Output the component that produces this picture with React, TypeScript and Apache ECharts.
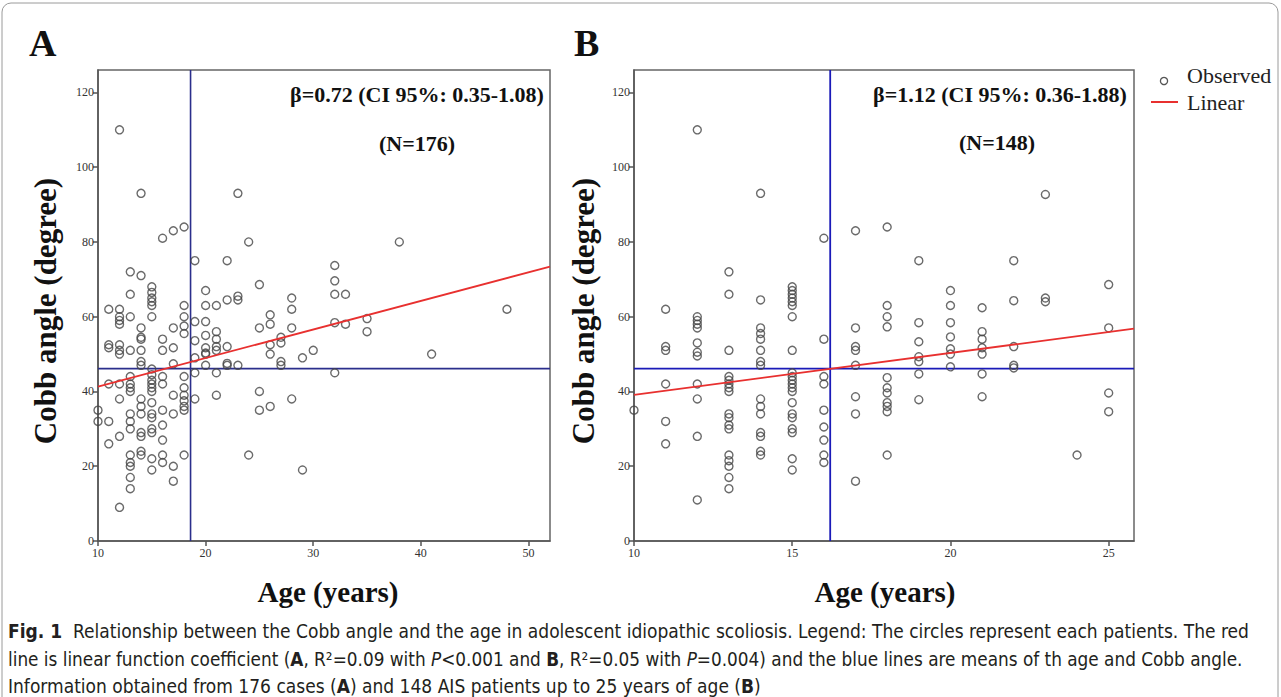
import React, { useEffect, useRef } from "react";
import * as echarts from "echarts";

// ---------- DATA ----------
// Panel A: [age (years), Cobb angle (degree)]
const observedA: number[][] = [
  [12, 110], [14, 93], [23, 93], [18, 84], [17, 83], [16, 81], [24, 80], [38, 80],
  [19, 75], [22, 75], [32, 73.7], [32, 69.6], [13, 72], [14, 71], [15, 68], [15, 66.5],
  [15, 65], [15, 64], [15, 63], [13, 66], [20, 67], [23, 65.5], [23, 64.5], [25, 68.6],
  [28, 65], [28, 62], [32, 66], [33, 66], [22, 64.5], [21, 63], [20, 63], [18, 63],
  [11, 62], [12, 62], [12, 60], [12, 59], [12, 58], [13, 60], [15, 60], [18, 60],
  [14, 57], [14, 54.5], [14, 54], [16, 54], [17, 57], [18, 57.5], [18, 55.5], [19, 58.7],
  [19, 53.6], [20, 58.7], [20, 55], [20, 51.7], [20, 50.3], [20, 47], [21, 56], [21, 54],
  [21, 52], [21, 51], [22, 52], [22, 47], [25, 57], [26, 60.5], [26, 58], [26, 52.5],
  [26, 50], [27, 54.5], [27, 53], [27, 48], [27, 47], [28, 57], [32, 58.4], [33, 58],
  [35, 59.5], [35, 56], [48, 62], [29, 49], [30, 51], [32, 45], [28, 38], [29, 19],
  [41, 50],
  [10, 35], [10, 32], [11, 42], [11, 32], [11, 26], [11, 51.7], [11, 52.5], [12, 52.5],
  [12, 51], [12, 50], [12, 42], [12, 38], [12, 28], [12, 9], [13, 51], [13, 44],
  [13, 42], [13, 41], [13, 40], [13, 34], [13, 32], [13, 30], [13, 23], [13, 21],
  [13, 20], [13, 17], [13, 14], [14, 51], [14, 48], [14, 47], [14, 38], [14, 36],
  [14, 34], [14, 29], [14, 28], [14, 24], [14, 23], [15, 46], [15, 44.5], [15, 43],
  [15, 42], [15, 41], [15, 40], [15, 37], [15, 34], [15, 33], [15, 30], [15, 29],
  [15, 22], [15, 19], [16, 51], [16, 44], [16, 42], [16, 35], [16, 31], [16, 27],
  [16, 23], [16, 21], [17, 51.7], [17, 47.4], [17, 39], [17, 34], [17, 20], [17, 16],
  [18, 44], [18, 41], [18, 39], [18, 37.5], [18, 36], [18, 35], [18, 23], [19, 49],
  [19, 45], [19, 38], [20, 50], [21, 45], [21, 39], [22, 47.5], [23, 47], [24, 23],
  [25, 40], [25, 35], [26, 36],
];

// Panel B: [age (years), Cobb angle (degree)]
const observedB: number[][] = [
  [12, 110], [14, 93], [16, 81], [17, 83], [13, 72], [13, 66], [14, 64.5], [15, 68],
  [15, 67], [15, 66], [15, 65], [15, 64], [15, 63], [18, 84], [23, 92.7], [19, 75],
  [22, 75], [20, 67], [25, 68.6], [22, 64.3], [23, 65], [23, 64],
  [10, 35], [11, 62], [11, 52], [11, 51], [11, 42], [11, 32], [11, 26],
  [12, 60], [12, 59], [12, 58], [12, 57], [12, 53], [12, 50.5], [12, 49.5], [12, 42],
  [12, 38], [12, 28], [12, 11],
  [13, 51], [13, 44], [13, 43], [13, 42], [13, 41], [13, 40], [13, 34], [13, 33],
  [13, 31], [13, 30], [13, 23], [13, 21.5], [13, 20], [13, 17], [13, 14],
  [14, 57], [14, 55.5], [14, 54], [14, 51], [14, 48], [14, 47], [14, 38], [14, 36],
  [14, 34], [14, 29], [14, 28], [14, 24], [14, 23],
  [15, 60], [15, 51], [15, 45], [15, 44], [15, 43], [15, 42], [15, 41], [15, 40],
  [15, 37], [15, 34], [15, 33], [15, 30], [15, 29], [15, 22], [15, 19],
  [16, 54], [16, 44], [16, 42], [16, 35], [16, 30.5], [16, 27], [16, 23], [16, 21],
  [17, 57], [17, 52], [17, 51], [17, 47], [17, 38.6], [17, 34], [17, 16],
  [18, 63], [18, 60], [18, 57.3], [18, 43.7], [18, 41], [18, 39.6], [18, 37], [18, 36],
  [18, 34.6], [18, 23],
  [19, 58.4], [19, 53.3], [19, 49.3], [19, 48], [19, 44.7], [19, 37.8],
  [20, 63], [20, 58.4], [20, 54.6], [20, 51.4], [20, 50], [20, 46.6],
  [21, 62.4], [21, 56], [21, 54], [21, 51.7], [21, 50], [21, 44.7], [21, 38.6],
  [22, 52], [22, 47], [22, 46.3],
  [24, 23], [25, 57], [25, 39.6], [25, 34.6],
];

// Linear fit end points [age, angle]
const linearA: number[][] = [[10, 41.3], [52, 73.4]];
const linearB: number[][] = [[10, 39.1], [25.8, 56.8]];

// Means [mean age, mean Cobb angle]
const meansA: number[] = [18.6, 46.1];
const meansB: number[] = [16.2, 46.1];

// Axis ranges and tick labels
const xRangeA: number[] = [10, 52];
const xRangeB: number[] = [10, 25.8];
const yRange: number[] = [0, 126];
const xTicksA: number[] = [10, 20, 30, 40, 50];
const xTicksB: number[] = [10, 15, 20, 25];
const yTicks: number[] = [0, 20, 40, 60, 80, 100, 120];

const annotationA: string[] = ["β=0.72 (CI 95%: 0.35-1.08)", "(N=176)"];
const annotationB: string[] = ["β=1.12 (CI 95%: 0.36-1.88)", "(N=148)"];
const legendLabels: string[] = ["Observed", "Linear"];
const axisTitles: string[] = ["Age (years)", "Cobb angle (degree)"];

const SERIF = "'Liberation Serif', 'Times New Roman', serif";
const CAPTION_FONT = "'DejaVu Sans Condensed', 'Liberation Sans Narrow', 'Noto Sans', sans-serif";

export default function App() {
  const ref = useRef<HTMLDivElement>(null);

  useEffect(() => {
    if (!ref.current) return;
    const chart = echarts.init(ref.current, undefined, { renderer: "svg" });

    const axisLineStyle = { color: "#555", width: 1.5 };
    const tickLabel = { fontFamily: SERIF, fontSize: 12, color: "#333" };

    const xAxisBase = (idx: number, range: number[], ticks: number[]) => ({
      type: "value",
      gridIndex: idx,
      min: range[0],
      max: range[1],
      splitLine: { show: false },
      axisLine: { show: true, lineStyle: axisLineStyle, onZero: false },
      axisTick: { show: true, length: 5, lineStyle: axisLineStyle, customValues: ticks },
      axisLabel: { ...tickLabel, margin: 6, customValues: ticks },
    });
    const yAxisBase = (idx: number) => ({
      type: "value",
      gridIndex: idx,
      min: yRange[0],
      max: yRange[1],
      splitLine: { show: false },
      axisLine: { show: true, lineStyle: axisLineStyle, onZero: false },
      axisTick: { show: true, length: 5, lineStyle: axisLineStyle, customValues: yTicks },
      axisLabel: { ...tickLabel, margin: 4, customValues: yTicks },
    });

    const scatterStyle = {
      color: "rgba(0,0,0,0)",
      borderColor: "#454545",
      borderWidth: 1.4,
    };

    const lineSeries = (idx: number, data: number[][], color: string, width: number, z: number) => ({
      type: "line",
      xAxisIndex: idx,
      yAxisIndex: idx,
      data,
      showSymbol: false,
      symbol: "none",
      silent: true,
      z,
      lineStyle: { color, width },
    });

    const blueA = "#2b2e8c";
    const blueB = "#1a1ab8";
    const red = "#e8302f";

    const option: any = {
      animation: false,
      backgroundColor: "#fff",
      grid: [
        { left: 98, top: 70, width: 452, height: 471, show: true, borderColor: "#666", borderWidth: 1.5, backgroundColor: "transparent" },
        { left: 634, top: 70, width: 500, height: 471, show: true, borderColor: "#666", borderWidth: 1.5, backgroundColor: "transparent" },
      ],
      xAxis: [xAxisBase(0, xRangeA, xTicksA), xAxisBase(1, xRangeB, xTicksB)],
      yAxis: [yAxisBase(0), yAxisBase(1)],
      series: [
        {
          type: "scatter",
          name: legendLabels[0],
          xAxisIndex: 0,
          yAxisIndex: 0,
          data: observedA,
          symbol: "circle",
          symbolSize: 8,
          itemStyle: scatterStyle,
          z: 3,
        },
        {
          type: "scatter",
          name: legendLabels[0],
          xAxisIndex: 1,
          yAxisIndex: 1,
          data: observedB,
          symbol: "circle",
          symbolSize: 8,
          itemStyle: scatterStyle,
          z: 3,
        },
        lineSeries(0, [[meansA[0], yRange[0]], [meansA[0], yRange[1]]], blueA, 1.6, 2),
        lineSeries(0, [[xRangeA[0], meansA[1]], [xRangeA[1], meansA[1]]], blueA, 1.6, 2),
        lineSeries(1, [[meansB[0], yRange[0]], [meansB[0], yRange[1]]], blueB, 1.8, 2),
        lineSeries(1, [[xRangeB[0], meansB[1]], [xRangeB[1], meansB[1]]], blueB, 1.8, 2),
        { ...lineSeries(0, linearA, red, 1.8, 4), name: legendLabels[1] },
        { ...lineSeries(1, linearB, red, 1.8, 4), name: legendLabels[1] },
      ],
      graphic: [
        // outer frame
        {
          type: "rect",
          shape: { x: 2, y: 3, width: 1276, height: 705, r: 9 },
          style: { fill: "none", stroke: "#9a9a9a", lineWidth: 1 },
          silent: true,
          z: 0,
        },
        // panel labels
        { type: "text", left: 29, top: 24, style: { text: "A", font: `bold 38px ${SERIF}`, fill: "#111" } },
        { type: "text", left: 574, top: 24, style: { text: "B", font: `bold 38px ${SERIF}`, fill: "#111" } },
        // axis titles
        { type: "text", x: 328, y: 592, style: { text: axisTitles[0], font: `bold 29px ${SERIF}`, fill: "#111", align: "center", verticalAlign: "middle" } },
        { type: "text", x: 885, y: 592, style: { text: axisTitles[0], font: `bold 29px ${SERIF}`, fill: "#111", align: "center", verticalAlign: "middle" } },
        { type: "text", x: 45, y: 311, rotation: Math.PI / 2, style: { text: axisTitles[1], font: `bold 31px ${SERIF}`, fill: "#111", align: "center", verticalAlign: "middle" } },
        { type: "text", x: 583, y: 311, rotation: Math.PI / 2, style: { text: axisTitles[1], font: `bold 31px ${SERIF}`, fill: "#111", align: "center", verticalAlign: "middle" } },
        // annotations
        { type: "text", x: 417, y: 94, style: { text: annotationA[0], font: `bold 22px ${SERIF}`, fill: "#111", align: "center", verticalAlign: "middle" } },
        { type: "text", x: 417, y: 143, style: { text: annotationA[1], font: `bold 22px ${SERIF}`, fill: "#111", align: "center", verticalAlign: "middle" } },
        { type: "text", x: 1000, y: 94, style: { text: annotationB[0], font: `bold 22px ${SERIF}`, fill: "#111", align: "center", verticalAlign: "middle" } },
        { type: "text", x: 997, y: 142, style: { text: annotationB[1], font: `bold 22px ${SERIF}`, fill: "#111", align: "center", verticalAlign: "middle" } },
        // legend
        { type: "circle", shape: { cx: 1164, cy: 81, r: 3.6 }, style: { fill: "none", stroke: "#555", lineWidth: 1.3 } },
        { type: "text", x: 1187, y: 75, style: { text: legendLabels[0], font: `22px ${SERIF}`, fill: "#222", verticalAlign: "middle" } },
        { type: "line", shape: { x1: 1151, y1: 102, x2: 1178, y2: 102 }, style: { stroke: red, lineWidth: 2 } },
        { type: "text", x: 1187, y: 102, style: { text: legendLabels[1], font: `22px ${SERIF}`, fill: "#222", verticalAlign: "middle" } },
        // caption
        {
          type: "text",
          x: 8,
          y: 631,
          style: {
            text: "{b|Fig. 1}  Relationship between the Cobb angle and the age in adolescent idiopathic scoliosis. Legend: The circles represent each patients. The red",
            font: `19px ${CAPTION_FONT}`,
            fill: "#231f20",
            verticalAlign: "middle",
            rich: { b: { fontWeight: "bold", fontSize: 19, fontFamily: CAPTION_FONT, fill: "#231f20" } },
          },
        },
        {
          type: "text",
          x: 8,
          y: 659,
          style: {
            text: "line is linear function coefficient ({b|A}, R²=0.09 with {i|P}<0.001 and {b|B}, R²=0.05 with {i|P}=0.004) and the blue lines are means of th age and Cobb angle.",
            font: `18.8px ${CAPTION_FONT}`,
            fill: "#231f20",
            verticalAlign: "middle",
            rich: {
              b: { fontWeight: "bold", fontSize: 18.8, fontFamily: CAPTION_FONT, fill: "#231f20" },
              i: { fontStyle: "italic", fontSize: 18.8, fontFamily: CAPTION_FONT, fill: "#231f20" },
            },
          },
        },
        {
          type: "text",
          x: 8,
          y: 686,
          style: {
            text: "Information obtained from 176 cases ({b|A}) and 148 AIS patients up to 25 years of age ({b|B})",
            font: `19px ${CAPTION_FONT}`,
            fill: "#231f20",
            verticalAlign: "middle",
            rich: { b: { fontWeight: "bold", fontSize: 19, fontFamily: CAPTION_FONT, fill: "#231f20" } },
          },
        },
      ],
    };

    chart.setOption(option);
    return () => chart.dispose();
  }, []);

  return (
    <div
      ref={ref}
      style={{ position: "fixed", left: 0, top: 0, width: 1281, height: 697, background: "#fff" }}
    />
  );
}
